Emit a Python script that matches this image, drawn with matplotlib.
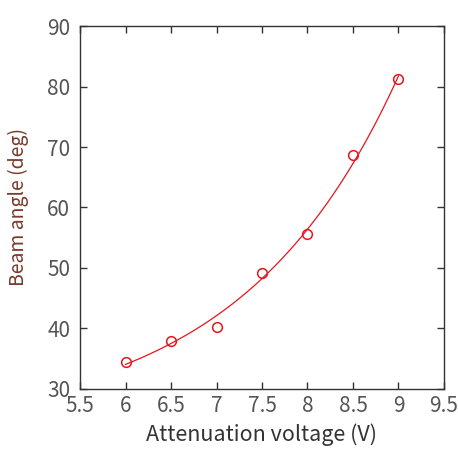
import numpy as np
import matplotlib
matplotlib.use('Agg')
from matplotlib import pyplot as plt

plt.rcParams['font.family'] = ['Noto Sans CJK JP', 'DejaVu Sans']

# measured data
voltage = [6.0, 6.5, 7.0, 7.5, 8.0, 8.5, 9.0]
angle = [34.5, 38.0, 40.3, 49.2, 55.6, 68.6, 81.2]

x_ticks = [5.5, 6, 6.5, 7, 7.5, 8, 8.5, 9, 9.5]
x_labels = ['5.5', '6', '6.5', '7', '7.5', '8', '8.5', '9', '9.5']
y_ticks = [30, 40, 50, 60, 70, 80, 90]

fig = plt.figure(figsize=(4.58, 4.5), dpi=100)
ax = fig.add_axes([0.1747, 0.1356, 0.7947, 0.8066])

# exponential fit y = a*exp(b*x) + c (scan b, least squares for a, c)
xv = np.array(voltage)
yv = np.array(angle)
best = None
for b in np.linspace(0.05, 2.0, 400):
    A = np.column_stack([np.exp(b * xv), np.ones_like(xv)])
    sol, res, _, _ = np.linalg.lstsq(A, yv, rcond=None)
    err = np.sum((A @ sol - yv) ** 2)
    if best is None or err < best[0]:
        best = (err, b, sol)
_, b, (a, c) = best
xs = np.linspace(xv.min(), xv.max(), 100)
ax.plot(xs, a * np.exp(b * xs) + c, color='#e8151b', lw=0.9)
ax.plot(voltage, angle, 'o', mfc='none', mec='#e8151b', ms=7, mew=1.1)

ax.set_xlim(5.5, 9.5)
ax.set_ylim(30, 90)
ax.set_xticks(x_ticks)
ax.set_xticklabels(x_labels)
ax.set_yticks(y_ticks)
ax.tick_params(direction='in', top=True, right=True, length=5, width=1,
               color='#333333', labelsize=15, labelcolor='#555555')
ax.tick_params(axis='y', pad=7)
ax.tick_params(axis='x', pad=4)
for s in ax.spines.values():
    s.set_color('#333333')
    s.set_linewidth(1)

ax.set_xlabel('Attenuation voltage (V)', fontsize=15.5, color='#333333')
ax.set_ylabel('Beam angle (deg)', fontsize=14, color='#7a3a2c')
ax.xaxis.set_label_coords(0.5, -0.095)
ax.yaxis.set_label_coords(-0.14, 0.5)

fig.savefig('out.png', dpi=100)
